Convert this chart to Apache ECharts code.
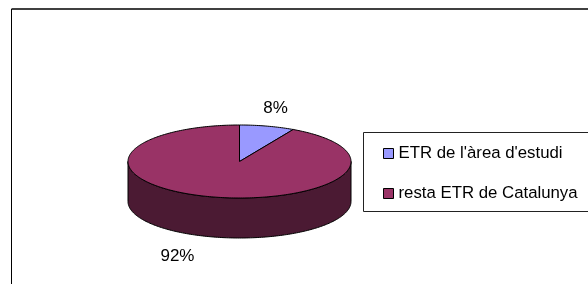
<!DOCTYPE html>
<html>
<head>
<meta charset="utf-8">
<script src="https://cdn.jsdelivr.net/npm/echarts@6/dist/echarts.min.js"></script>
<style>
  html, body { margin: 0; padding: 0; background: #fff; }
  #chart { width: 588px; height: 284px; }
</style>
</head>
<body>
<div id="chart"></div>
<script>
const categories = ["ETR de l'àrea d'estudi", 'resta ETR de Catalunya']
const values = [8, 92]
const labels = ['8%', '92%']

const topColors = ['#9999ff', '#993366']
const sideColors = ['#4d4d80', '#4b1a33']

// 3d pie geometry, in pixels
const cx = 239.5, cy = 161.5, rx = 111.5, ry = 36.5, depth = 40
const labelShift = [[0, 0], [-26, 2]]
const font = 'Liberation Sans, Arial, sans-serif'

const total = values.reduce((a, b) => a + b, 0)
const starts = []
let acc = 0
values.forEach(v => { starts.push(acc / total * Math.PI * 2); acc += v })

function pt(t, dy) {
  return [cx + rx * Math.sin(t), cy - ry * Math.cos(t) + (dy || 0)]
}

function arc(a0, a1, dy) {
  const pts = []
  const n = Math.max(2, Math.ceil((a1 - a0) / 0.02))
  for (let i = 0; i <= n; i++) pts.push(pt(a0 + (a1 - a0) * i / n, dy))
  return pts
}

function renderSlice(idx) {
  return function (params, api) {
    const v = api.value(0)
    const a0 = starts[idx]
    const a1 = a0 + v / total * Math.PI * 2
    const children = []
    // front wall is only seen between 90 and 270 degrees
    const s = Math.max(a0, Math.PI / 2)
    const e = Math.min(a1, Math.PI * 1.5)
    if (e > s) {
      children.push({
        type: 'polygon',
        shape: { points: arc(s, e, 0).concat(arc(s, e, depth).reverse()) },
        style: { fill: sideColors[idx], stroke: '#000', lineWidth: 1 }
      })
    }
    children.push({
      type: 'polygon',
      shape: { points: [[cx, cy]].concat(arc(a0, a1, 0)) },
      style: { fill: topColors[idx], stroke: '#000', lineWidth: 1 }
    })
    const m = (a0 + a1) / 2
    const front = Math.cos(m) < 0
    children.push({
      type: 'text',
      x: cx + 145 * Math.sin(m) + labelShift[idx][0],
      y: cy - 55 * Math.cos(m) + (front ? depth : 0) + labelShift[idx][1],
      style: {
        text: labels[idx],
        fill: '#000',
        font: '17px ' + font,
        align: 'center',
        verticalAlign: 'middle'
      }
    })
    return { type: 'group', children }
  }
}

const chart = echarts.init(document.getElementById('chart'))

chart.setOption({
  animation: false,
  graphic: [
    { type: 'line', shape: { x1: 11.5, y1: 9, x2: 600, y2: 9 }, style: { stroke: '#000', lineWidth: 1.5 } },
    { type: 'line', shape: { x1: 11.5, y1: 9, x2: 11.5, y2: 300 }, style: { stroke: '#000', lineWidth: 1 } },
    { type: 'rect', shape: { x: 363.5, y: 132.5, width: 260, height: 79 }, style: { fill: '#fff', stroke: '#222', lineWidth: 1 } }
  ],
  legend: {
    orient: 'vertical',
    left: 383,
    top: 145,
    padding: 0,
    itemWidth: 10,
    itemHeight: 10,
    itemGap: 23,
    icon: 'rect',
    itemStyle: { borderColor: '#000', borderWidth: 1 },
    textStyle: { fontFamily: font, fontSize: 16.8, color: '#000' },
    data: categories
  },
  series: categories.map((name, i) => ({
    type: 'custom',
    name: name,
    coordinateSystem: 'none',
    itemStyle: { color: topColors[i] },
    data: [[values[i]]],
    renderItem: renderSlice(i)
  }))
})
</script>
</body>
</html>
